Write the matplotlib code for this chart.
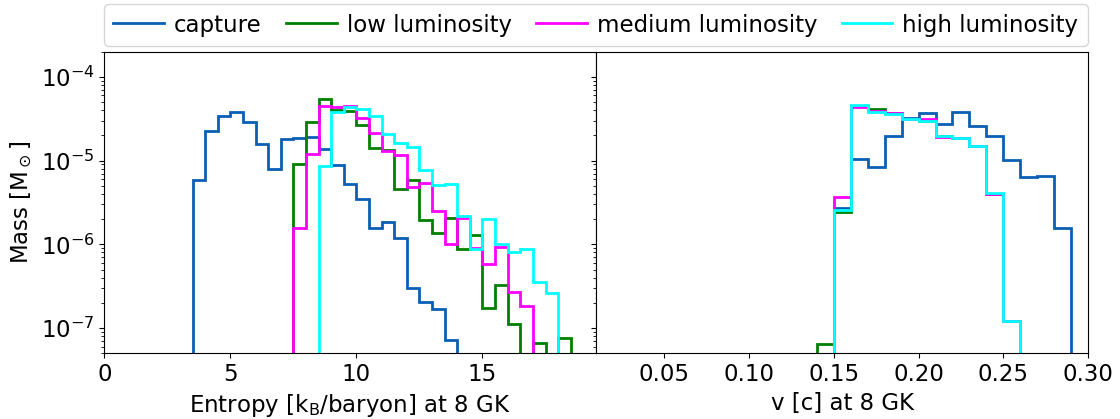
import numpy as np
import matplotlib
matplotlib.use("Agg")
import matplotlib.pyplot as plt

# Histogram data (mass per bin, M_sun)
labels = ['capture', 'low luminosity', 'medium luminosity', 'high luminosity']
colors = ['#0a5fb4', 'green', 'magenta', 'cyan']

# entropy bins: 3.5 ... 18.5 in steps of 0.5
s_edges = np.arange(3.5, 18.51, 0.5)
s_capture = [5.9e-6, 2.23e-5, 3.43e-5, 3.76e-5, 2.86e-5, 1.58e-5, 8.0e-6, 1.8e-5,
             1.85e-5, 1.91e-5, 1.38e-5, 8.9e-6, 5.27e-6, 3.5e-6, 1.58e-6, 1.83e-6,
             1.18e-6, 3.05e-7, 2.04e-7, 1.71e-7, 7.2e-8, 0, 0, 0, 0, 0, 0, 0, 0, 0]
s_low = [0, 0, 0, 0, 0, 0, 0, 0, 9.1e-6, 2.9e-5, 5.4e-5, 4.05e-5, 3.95e-5, 2.68e-5,
         1.43e-5, 1.35e-5, 4.6e-6, 5.8e-6, 1.93e-6, 1.38e-6, 2.08e-6, 8.9e-7, 1.28e-6,
         1.74e-7, 3.25e-7, 1.12e-7, 0, 6.7e-8, 0, 7.6e-8]
s_medium = [0, 0, 0, 0, 0, 0, 0, 0, 1.58e-6, 1.2e-5, 4.5e-5, 4.4e-5, 4.5e-5, 3.22e-5,
            2.12e-5, 1.32e-5, 1.18e-5, 4.8e-6, 5.4e-6, 2.5e-6, 1.0e-6, 2.08e-6, 9.1e-7,
            5.9e-7, 9.2e-7, 2.68e-7, 1.85e-7, 0, 0, 0]
s_high = [0, 0, 0, 0, 0, 0, 0, 0, 0, 0, 8.6e-6, 3.85e-5, 4.4e-5, 4.1e-5, 3.4e-5,
          2.1e-5, 1.62e-5, 1.46e-5, 7.8e-6, 5.1e-6, 5.2e-6, 2.2e-6, 8.9e-7, 2.02e-6,
          1.0e-6, 8.0e-7, 8.9e-7, 3.6e-7, 2.6e-7, 0]

# velocity bins: 0.14 ... 0.29 in steps of 0.01
v_edges = np.linspace(0.14, 0.29, 16)
v_capture = [0, 2.69e-6, 1.05e-5, 8.4e-6, 1.97e-5, 3.22e-5, 3.7e-5, 2.72e-5, 3.76e-5,
             2.61e-5, 1.99e-5, 1.03e-5, 6.3e-6, 6.5e-6, 1.58e-6]
v_low = [6.4e-8, 2.43e-6, 4.5e-5, 4.1e-5, 3.75e-5, 3.15e-5, 3.0e-5, 1.95e-5, 1.86e-5,
         1.5e-5, 4.0e-6, 1.2e-7, 0, 0, 0]
v_medium = [0, 3.7e-6, 4.4e-5, 3.9e-5, 3.7e-5, 3.1e-5, 3.15e-5, 1.92e-5, 1.85e-5,
            1.48e-5, 4.0e-6, 1.2e-7, 0, 0, 0]
v_high = [0, 2.6e-6, 4.6e-5, 3.8e-5, 3.65e-5, 3.1e-5, 2.95e-5, 1.95e-5, 1.88e-5,
          1.5e-5, 4.1e-6, 1.2e-7, 0, 0, 0]

plt.rcParams['font.size'] = 16.5

fig = plt.figure(figsize=(11.2, 4.19), dpi=100)
ax1 = fig.add_axes([0.0931, 0.1568, 0.4390, 0.7198])
ax2 = fig.add_axes([0.5321, 0.1568, 0.4396, 0.7198], sharey=ax1)

for vals, lab, c in zip([s_capture, s_low, s_medium, s_high], labels, colors):
    ax1.stairs(vals, s_edges, baseline=0, color=c, lw=2, label=lab)
for vals, c in zip([v_capture, v_low, v_medium, v_high], colors):
    ax2.stairs(vals, v_edges, baseline=0, color=c, lw=2)

ax1.set_yscale('log')
ax1.set_ylim(5e-8, 2e-4)
ax1.set_xlim(0, 19.5)
ax2.set_xlim(0.01, 0.30)
ax2.tick_params(labelleft=False)

ax1.set_xlabel(r'Entropy [k$_\mathrm{B}$/baryon] at 8 GK')
ax2.set_xlabel('v [c] at 8 GK')
ax1.set_ylabel(r'Mass [M$_\odot$]')

ax1.legend(loc='lower left', bbox_to_anchor=(0, 1.02, 2.0, 0.2), mode='expand',
           ncol=4, borderaxespad=0, handlelength=2.2, handletextpad=0.45,
           fontsize=16.5)

fig.savefig('out.png', dpi=100)
